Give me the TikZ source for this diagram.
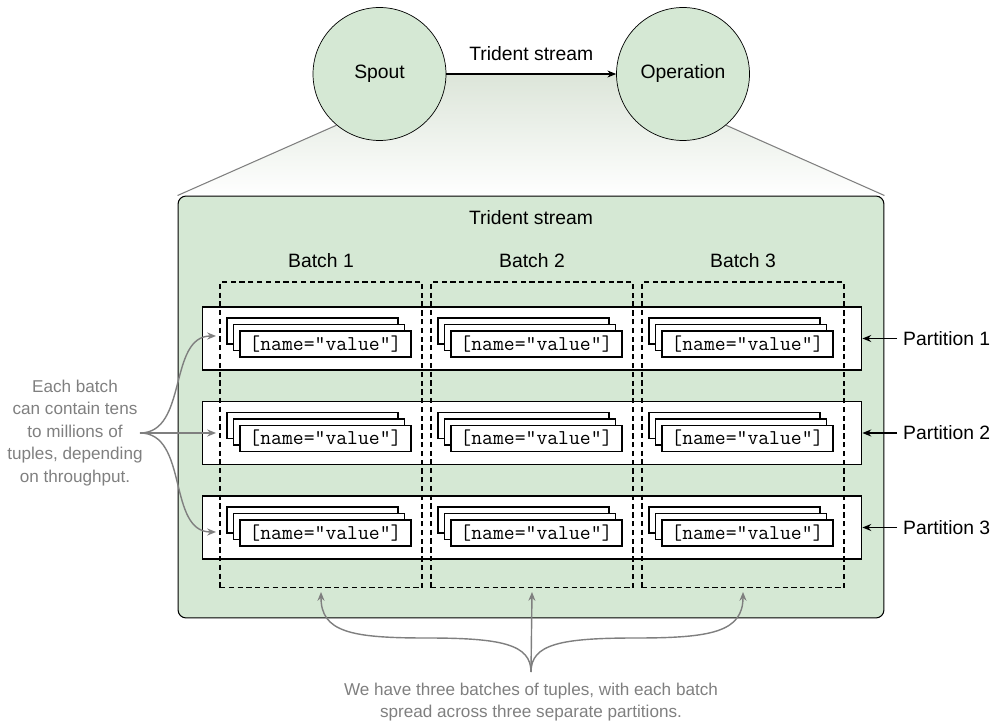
\documentclass[tikz,border=0pt]{standalone}
\usepackage{fontspec}
\setmainfont{Liberation Sans}
\usetikzlibrary{arrows.meta,positioning,calc,backgrounds}
\definecolor{boxgreen}{HTML}{D5E8D4}
\definecolor{fadegreen}{HTML}{DCE5D9}
\definecolor{notegray}{HTML}{7F7F7F}

\begin{document}
\begin{tikzpicture}[x=0.02cm, y=-0.02cm,
    every node/.style={font=\fontsize{11}{13}\selectfont},
    proc/.style={circle, draw, fill=boxgreen, minimum size=2.66cm, inner sep=0pt},
    arr/.style={-{Stealth[length=5pt,width=4pt]}, semithick},
    note/.style={-{Stealth[length=5pt,width=4pt]}, notegray, thick},
    notetext/.style={text=notegray, align=center, font=\fontsize{9.75}{12.8}\selectfont},
    stream/.style={draw, semithick, fill=boxgreen, rounded corners=0.16cm, minimum width=14.12cm, minimum height=8.44cm},
    rowbox/.style={draw, semithick, fill=white, minimum width=13.2cm, minimum height=1.26cm},
    tuple/.style={draw, semithick, fill=white, minimum width=3.42cm, minimum height=0.52cm, inner sep=0pt, font=\fontsize{12}{13}\selectfont\ttfamily},
    batchbox/.style={draw, semithick, dash pattern=on 3pt off 2pt, minimum width=4.04cm, minimum height=6.12cm}
]
\useasboundingbox (0,0) rectangle (998,722);

% top: spout -> operation
\node[proc] (spout) at (379.5,74) {Spout};
\node[proc] (oper) at (683,74) {Operation};
\draw[arr] (spout) -- node[above=4pt] {Trident stream} (oper);

% zoomed-in stream
\node[stream] (stream) at (531,407) {};
\begin{scope}[on background layer]
\shade[top color=fadegreen, bottom color=white] (stream.north west) -- (spout.230) -- (spout.east) -- (oper.west) -- (oper.310) -- (stream.north east) -- cycle;
\end{scope}
\draw[notegray, semithick] (spout.230) -- (stream.north west);
\draw[notegray, semithick] (oper.310) -- (stream.north east);
\node (title) at (531,218) {Trident stream};

% partitions
\foreach \p in {1,2,3} {
  \node[rowbox] (row\p) at (532,{244+94.5*\p}) {};
  \node[anchor=west] (part\p) at (897,{244+94.5*\p}) {Partition \p};
  \draw[arr] (part\p) -- (row\p);
}

% tuples
\foreach \b in {1,2,3} {
  \foreach \p in {1,2,3} {
    \node[tuple] (tup\b\p back) at ({101.5+211*\b},{236.5+94.5*\p}) {};
    \node[tuple] (tup\b\p mid) at ({108+211*\b},{243+94.5*\p}) {};
    \node[tuple] (tup\b\p) at ({114.5+211*\b},{249.5+94.5*\p}) {[name="value"]};
  }
}

% batches
\foreach \b in {1,2,3} {
  \node (batch\b) at ({110+211*\b},261) {Batch \b};
  \node[batchbox] (bbox\b) at ({110+211*\b},435) {};
  \coordinate (btip\b) at ({110+211*\b},592);
}

% left note
\node[notetext] (leftnote) at (75,433) {Each batch\\can contain tens\\to millions of\\tuples, depending\\on throughput.};
\coordinate (lhub) at (140,433);
\foreach \p/\y in {1/336,2/433,3/532} {
  \coordinate (ltip\p) at (216,\y);
  \draw[note] (lhub) to[out=0,in=180] (ltip\p);
}

% bottom note
\node[notetext] (botnote) at (531,702) {We have three batches of tuples, with each batch\\spread across three separate partitions.};
\coordinate (bhub) at (531,672);
\draw[note] (bhub) .. controls +(0,-28) and +(75,0) .. (426,638) .. controls +(-75,0) and +(0,40) .. (btip1);
\draw[note] (bhub) -- (btip2);
\draw[note] (bhub) .. controls +(0,-28) and +(-75,0) .. (636,638) .. controls +(75,0) and +(0,40) .. (btip3);
\end{tikzpicture}
\end{document}
